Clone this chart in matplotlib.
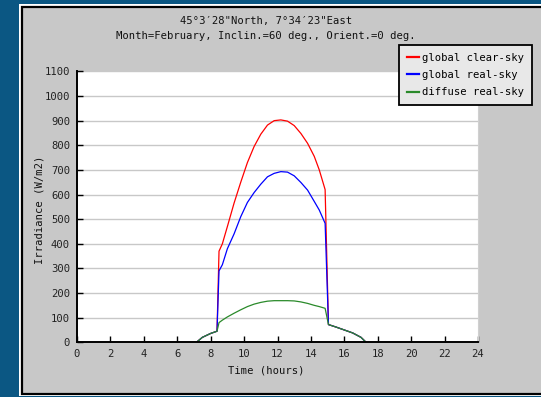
import matplotlib
matplotlib.use("Agg")
import matplotlib.pyplot as plt
from matplotlib.patches import Rectangle
from matplotlib.lines import Line2D

# ---- data ----
hours = [7.15, 7.5, 8.0, 8.38, 8.5, 8.7, 9.0, 9.4, 9.8, 10.2, 10.6, 11.0, 11.4, 11.8,
         12.2, 12.6, 13.0, 13.4, 13.8, 14.2, 14.5, 14.85, 15.05, 15.5, 16.0, 16.5, 17.0, 17.3]
global_clear = [0, 20, 36, 45, 370, 400, 470, 565, 650, 730, 795, 845, 882, 900,
                903, 898, 880, 848, 808, 755, 700, 620, 72, 62, 50, 38, 20, 0]
global_real = [0, 20, 36, 45, 290, 315, 380, 440, 510, 568, 608, 642, 672, 686,
               693, 691, 676, 649, 618, 572, 537, 483, 72, 62, 50, 38, 20, 0]
diffuse_real = [0, 20, 36, 45, 80, 90, 103, 118, 132, 145, 155, 162, 167, 169,
                169, 169, 168, 164, 158, 150, 145, 138, 72, 62, 50, 38, 20, 0]
series_labels = ["global clear-sky", "global real-sky", "diffuse real-sky"]
series_colors = ["#ff0000", "#0000ff", "#2a8a2a"]
xticks = list(range(0, 25, 2))
yticks = list(range(0, 1101, 100))
title1 = "45°3′28\"North, 7°34′23\"East"
title2 = "Month=February, Inclin.=60 deg., Orient.=0 deg."

W, H = 541, 397
FONT = ["DejaVu Sans Mono", "DejaVu Sans"]
FS = 7.6

fig = plt.figure(figsize=(W / 100, H / 100), dpi=100)
fig.patch.set_facecolor("#0b5783")

def fx(px):
    return px / W

def fy(py):
    return 1 - py / H

# panel with white outline and black border
fig.patches.append(Rectangle((fx(19), fy(396)), fx(560), (396 - 4) / H,
                             transform=fig.transFigure, facecolor="white",
                             edgecolor="none", zorder=-10))
fig.patches.append(Rectangle((fx(22), fy(394)), fx(560), (394 - 7) / H,
                             transform=fig.transFigure, facecolor="#c8c8c8",
                             edgecolor="black", linewidth=1.6, zorder=-9))

ax = fig.add_axes([fx(77), fy(342.3), 401 / W, 270.9 / H])
ax.set_zorder(2)
ax.set_facecolor("white")
ax.set_xlim(0, 24)
ax.set_ylim(0, 1100)
ax.set_xticks(xticks)
ax.set_yticks(yticks)
ax.yaxis.grid(True, color="#c8c8c8", linewidth=1.0)
ax.set_axisbelow(True)
ax.spines["top"].set_visible(False)
ax.spines["right"].set_color("#d0d0d0")
ax.spines["right"].set_linewidth(0.8)
ax.spines["left"].set_linewidth(1.4)
ax.spines["bottom"].set_linewidth(1.4)
ax.tick_params(direction="in", length=4, width=1.0, labelsize=FS, colors="black")
ax.tick_params(axis="x", pad=5)
ax.tick_params(axis="y", pad=5)
for lab in ax.get_xticklabels() + ax.get_yticklabels():
    lab.set_family(FONT)
    lab.set_color("#222222")

for vals, lab, col in zip([global_clear, global_real, diffuse_real], series_labels, series_colors):
    ax.plot(hours, vals, color=col, linewidth=0.9, label=lab)

fig.text(fx(266), fy(20.7), title1, ha="center", va="center", fontsize=FS, family=FONT, color="#111111")
fig.text(fx(266), fy(36), title2, ha="center", va="center", fontsize=FS, family=FONT, color="#111111")
fig.text(fx(266.7), fy(370.7), "Time (hours)", ha="center", va="center", fontsize=FS, family=FONT, color="#111111")
fig.text(fx(40), fy(210), "Irradiance (W/m2)", ha="center", va="center", rotation=90,
         fontsize=FS, family=FONT, color="#111111")

leg_handles = [Line2D([], [], color=c, linewidth=1.6) for c in series_colors]
leg = fig.legend(leg_handles, series_labels, loc="upper left",
                 bbox_to_anchor=(fx(399), fy(45)), frameon=True, fancybox=False,
                 edgecolor="black", facecolor="#e8e8e8", framealpha=1,
                 prop={"family": FONT, "size": FS}, handlelength=1.1,
                 handletextpad=0.3, borderpad=0.75, labelspacing=0.68,
                 borderaxespad=0)
leg.set_zorder(5)
leg.get_frame().set_linewidth(1.3)

fig.savefig("out.png", dpi=100)
